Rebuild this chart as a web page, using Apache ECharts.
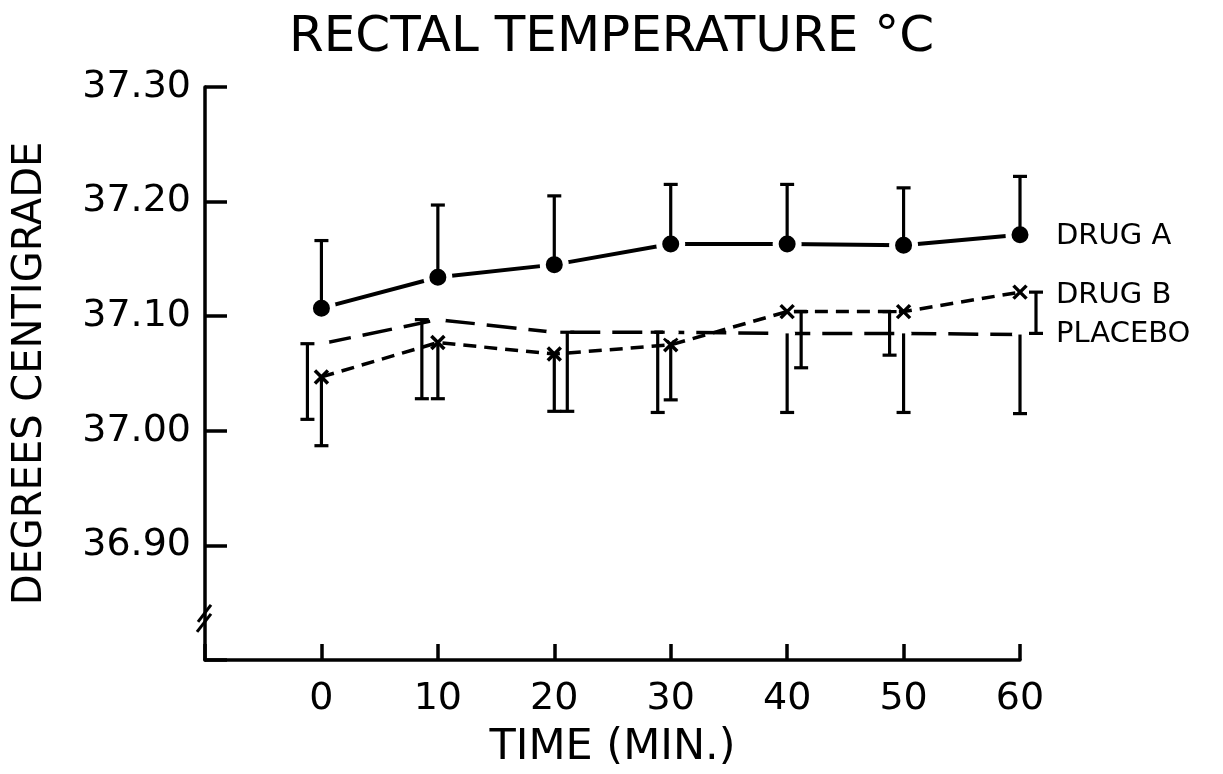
<!DOCTYPE html>
<html>
<head>
<meta charset="utf-8">
<script src="https://cdn.jsdelivr.net/npm/echarts@6/dist/echarts.min.js"></script>
<style>html,body{margin:0;padding:0;background:#fff;}#c{width:1223px;height:774px;}</style>
</head>
<body>
<div id="c"></div>
<script>
// ---- data ----
const times = [0, 10, 20, 30, 40, 50, 60];
const drugAMean  = [37.107, 37.134, 37.145, 37.163, 37.163, 37.162, 37.171];
const drugAUpper = [37.166, 37.197, 37.205, 37.215, 37.215, 37.212, 37.222];
const drugBMean  = [37.047, 37.077, 37.067, 37.075, 37.104, 37.104, 37.121];
const drugBLower = [36.987, 37.028, 37.017, 37.027, 37.055, 37.066, 37.085];
const placeboMean  = [37.076, 37.097, 37.086, 37.086, 37.085, 37.085, 37.084];
const placeboLower = [37.010, 37.028, 37.017, 37.016, 37.016, 37.016, 37.015];
const seriesNames = ['DRUG A', 'DRUG B', 'PLACEBO'];
const yTickValues = [36.90, 37.00, 37.10, 37.20, 37.30];
const titleText = 'RECTAL TEMPERATURE °C';
const xAxisTitle = 'TIME (MIN.)';
const yAxisTitle = 'DEGREES CENTIGRADE';

// ---- style (pixel shifts of error bars drawn beside the marker) ----
const barShift = {
  'DRUG A':  [0, 0, 0, 0, 0, 0, 0],
  'DRUG B':  [0, 0, 0, 0, 14, -14, 16],
  'PLACEBO': [-14, -16, 13, -13, 0, 0, 0]
};
const INK = '#000';
const FONT = '"DejaVu Sans", "Liberation Sans", sans-serif';

function pairs(xs, ys) { return xs.map((x, i) => [x, ys[i]]); }
function barData(xs, m, b) { return xs.map((x, i) => [x, m[i], b[i]]); }

function errorRender(name) {
  return function (params, api) {
    const i = params.dataIndex;
    const x = api.value(0), m = api.value(1), b = api.value(2);
    const pm = api.coord([x, m]);
    const pb = api.coord([x, b]);
    const s = barShift[name][i];
    const sx = pm[0] + s;
    const cap = 7;
    const st = { stroke: INK, lineWidth: 3.2, lineCap: 'butt' };
    const ch = [
      { type: 'line', shape: { x1: sx, y1: pm[1], x2: sx, y2: pb[1] }, style: st },
      { type: 'line', shape: { x1: sx - cap, y1: pb[1], x2: sx + cap, y2: pb[1] }, style: st }
    ];
    if (s !== 0) {
      ch.push({ type: 'line', shape: { x1: sx - cap, y1: pm[1], x2: sx + cap, y2: pm[1] }, style: st });
    }
    return { type: 'group', children: ch };
  };
}

const chart = echarts.init(document.getElementById('c'), null, { renderer: 'canvas' });

const option = {
  backgroundColor: '#fff',
  animation: false,
  title: {
    text: titleText,
    left: 'center',
    top: 8,
    textStyle: { fontFamily: FONT, fontSize: 50, fontWeight: 'normal', color: INK }
  },
  grid: { left: 205, right: 203, top: 87, bottom: 109 },
  xAxis: {
    type: 'value', min: -10, max: 60, interval: 10,
    name: xAxisTitle, nameLocation: 'middle', nameGap: 66,
    nameTextStyle: { fontFamily: FONT, fontSize: 43, color: INK },
    axisLine: { show: true, onZero: false, lineStyle: { color: INK, width: 3.5 } },
    axisTick: { show: true, inside: true, length: 16, lineStyle: { color: INK, width: 3.5 } },
    axisLabel: {
      fontFamily: FONT, fontSize: 38, color: INK, margin: 20,
      formatter: v => (times.indexOf(v) >= 0 ? String(v) : '')
    },
    splitLine: { show: false }
  },
  yAxis: {
    type: 'value', min: 36.8, max: 37.3, interval: 0.1,
    name: yAxisTitle, nameLocation: 'middle', nameGap: 154, nameRotate: 90,
    nameTextStyle: { fontFamily: FONT, fontSize: 40, color: INK },
    axisLine: { show: true, onZero: false, lineStyle: { color: INK, width: 3.5 } },
    axisTick: { show: true, inside: true, length: 22, lineStyle: { color: INK, width: 3.5 } },
    axisLabel: {
      fontFamily: FONT, fontSize: 38, color: INK, margin: 14,
      formatter: v => (yTickValues.some(t => Math.abs(t - v) < 1e-6) ? v.toFixed(2) : '')
    },
    splitLine: { show: false }
  },
  series: [
    {
      name: seriesNames[0], type: 'line', data: pairs(times, drugAMean), z: 3,
      symbol: 'circle', symbolSize: 23,
      itemStyle: { color: INK, borderColor: '#fff', borderWidth: 6 },
      lineStyle: { color: INK, width: 4, type: 'solid' },
      endLabel: { show: true, formatter: seriesNames[0], distance: 36, offset: [0, 2],
        fontFamily: FONT, fontSize: 29, color: INK }
    },
    {
      name: seriesNames[1], type: 'line', data: pairs(times, drugBMean), z: 4,
      symbol: 'path://M0,0L10,10M10,0L0,10', symbolSize: 13,
      itemStyle: { color: INK, borderColor: INK, borderWidth: 3.5 },
      lineStyle: { color: INK, width: 3.5, type: [13, 8] },
      endLabel: { show: true, formatter: seriesNames[1], distance: 36, offset: [0, 3],
        fontFamily: FONT, fontSize: 29, color: INK }
    },
    {
      name: seriesNames[2], type: 'line', data: pairs(times, placeboMean), z: 5,
      symbol: 'emptyCircle', symbolSize: 14,
      itemStyle: { color: '#fff', borderColor: INK, borderWidth: 3 },
      lineStyle: { color: INK, width: 3.5, type: [30, 12] },
      endLabel: { show: true, formatter: seriesNames[2], distance: 36, offset: [0, 0],
        fontFamily: FONT, fontSize: 29, color: INK }
    },
    { type: 'custom', name: 'errA', data: barData(times, drugAMean, drugAUpper),
      renderItem: errorRender('DRUG A'), z: 6, silent: true },
    { type: 'custom', name: 'errB', data: barData(times, drugBMean, drugBLower),
      renderItem: errorRender('DRUG B'), z: 6, silent: true },
    { type: 'custom', name: 'errP', data: barData(times, placeboMean, placeboLower),
      renderItem: errorRender('PLACEBO'), z: 6, silent: true }
  ]
};
chart.setOption(option);

// axis break marks on the y axis
const bp = chart.convertToPixel({ gridIndex: 0 }, [-10, 36.835]);
const sl = { stroke: INK, lineWidth: 3 };
chart.setOption({
  graphic: [
    { type: 'line', z: 10, shape: { x1: bp[0] - 8, y1: bp[1] + 12, x2: bp[0] + 6, y2: bp[1] - 6 }, style: sl },
    { type: 'line', z: 10, shape: { x1: bp[0] - 7, y1: bp[1] + 2, x2: bp[0] + 6, y2: bp[1] - 15 }, style: sl }
  ]
});
</script>
</body>
</html>
